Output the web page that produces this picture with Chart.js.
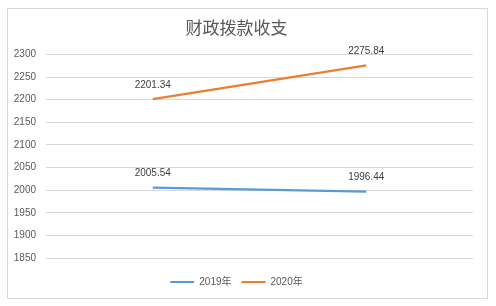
<!DOCTYPE html>
<html>
<head>
<meta charset="utf-8">
<script src="https://cdn.jsdelivr.net/npm/chart.js@4"></script>
<style>
  html, body { margin: 0; padding: 0; background: #fff; }
  #wrap { position: relative; width: 496px; height: 306px; }
  #frame { position: absolute; left: 7px; top: 8px; width: 479px; height: 289px; border: 1px solid #d9d9d9; pointer-events: none; }
</style>
</head>
<body>
<div id="wrap">
  <canvas id="chart" width="496" height="306"></canvas>
  <div id="frame"></div>
</div>
<script>
  // Chart data
  const categories = ['A', 'B'];
  const series2019 = [2005.54, 1996.44];
  const series2020 = [2201.34, 2275.84];
  const seriesNames = ['2019年', '2020年'];
  const yMin = 1850, yMax = 2300, yStep = 50;

  Chart.defaults.font.family = "'Liberation Sans', 'Noto Sans CJK SC', sans-serif";
  Chart.defaults.color = '#595959';

  // Draw values above each point
  const valueLabels = {
    id: 'valueLabels',
    afterDatasetsDraw(chart) {
      const ctx = chart.ctx;
      ctx.save();
      ctx.font = "10px 'Liberation Sans', sans-serif";
      ctx.fillStyle = '#404040';
      ctx.textAlign = 'center';
      ctx.textBaseline = 'middle';
      chart.data.datasets.forEach((ds, i) => {
        chart.getDatasetMeta(i).data.forEach((pt, j) => {
          ctx.fillText(ds.data[j].toFixed(2), pt.x, pt.y - 14);
        });
      });
      ctx.restore();
    }
  };

  new Chart(document.getElementById('chart').getContext('2d'), {
    type: 'line',
    data: {
      labels: categories,
      datasets: [
        { label: seriesNames[0], data: series2019, borderColor: '#5B9BD5', backgroundColor: '#5B9BD5', borderWidth: 2.25, pointRadius: 0, tension: 0 },
        { label: seriesNames[1], data: series2020, borderColor: '#ED7D31', backgroundColor: '#ED7D31', borderWidth: 2.25, pointRadius: 0, tension: 0 }
      ]
    },
    options: {
      responsive: false,
      animation: false,
      layout: { padding: { left: 0, right: 23, top: 0, bottom: 9 } },
      plugins: {
        title: {
          display: true,
          text: '财政拨款收支',
          color: '#595959',
          font: { size: 17, weight: 'normal', family: "'Noto Sans CJK SC', sans-serif" },
          padding: { top: 17, bottom: 17 }
        },
        legend: {
          position: 'bottom',
          labels: {
            boxWidth: 24,
            boxHeight: 2,
            padding: 10,
            color: '#595959',
            font: { size: 10 },
            generateLabels(chart) {
              return Chart.defaults.plugins.legend.labels.generateLabels(chart).map(l => Object.assign(l, { lineWidth: 0 }));
            }
          }
        },
        tooltip: { enabled: false }
      },
      scales: {
        x: {
          offset: true,
          grid: { display: false },
          border: { display: false },
          ticks: { display: false },
          afterFit(scale) { scale.height = 9; }
        },
        y: {
          min: yMin,
          max: yMax,
          ticks: { stepSize: yStep, padding: 10, color: '#595959', font: { size: 10 }, callback: v => String(v) },
          grid: { color: '#d9d9d9', drawTicks: false },
          border: { display: false },
          afterFit(scale) { scale.width = 46; }
        }
      }
    },
    plugins: [valueLabels]
  });
</script>
</body>
</html>
